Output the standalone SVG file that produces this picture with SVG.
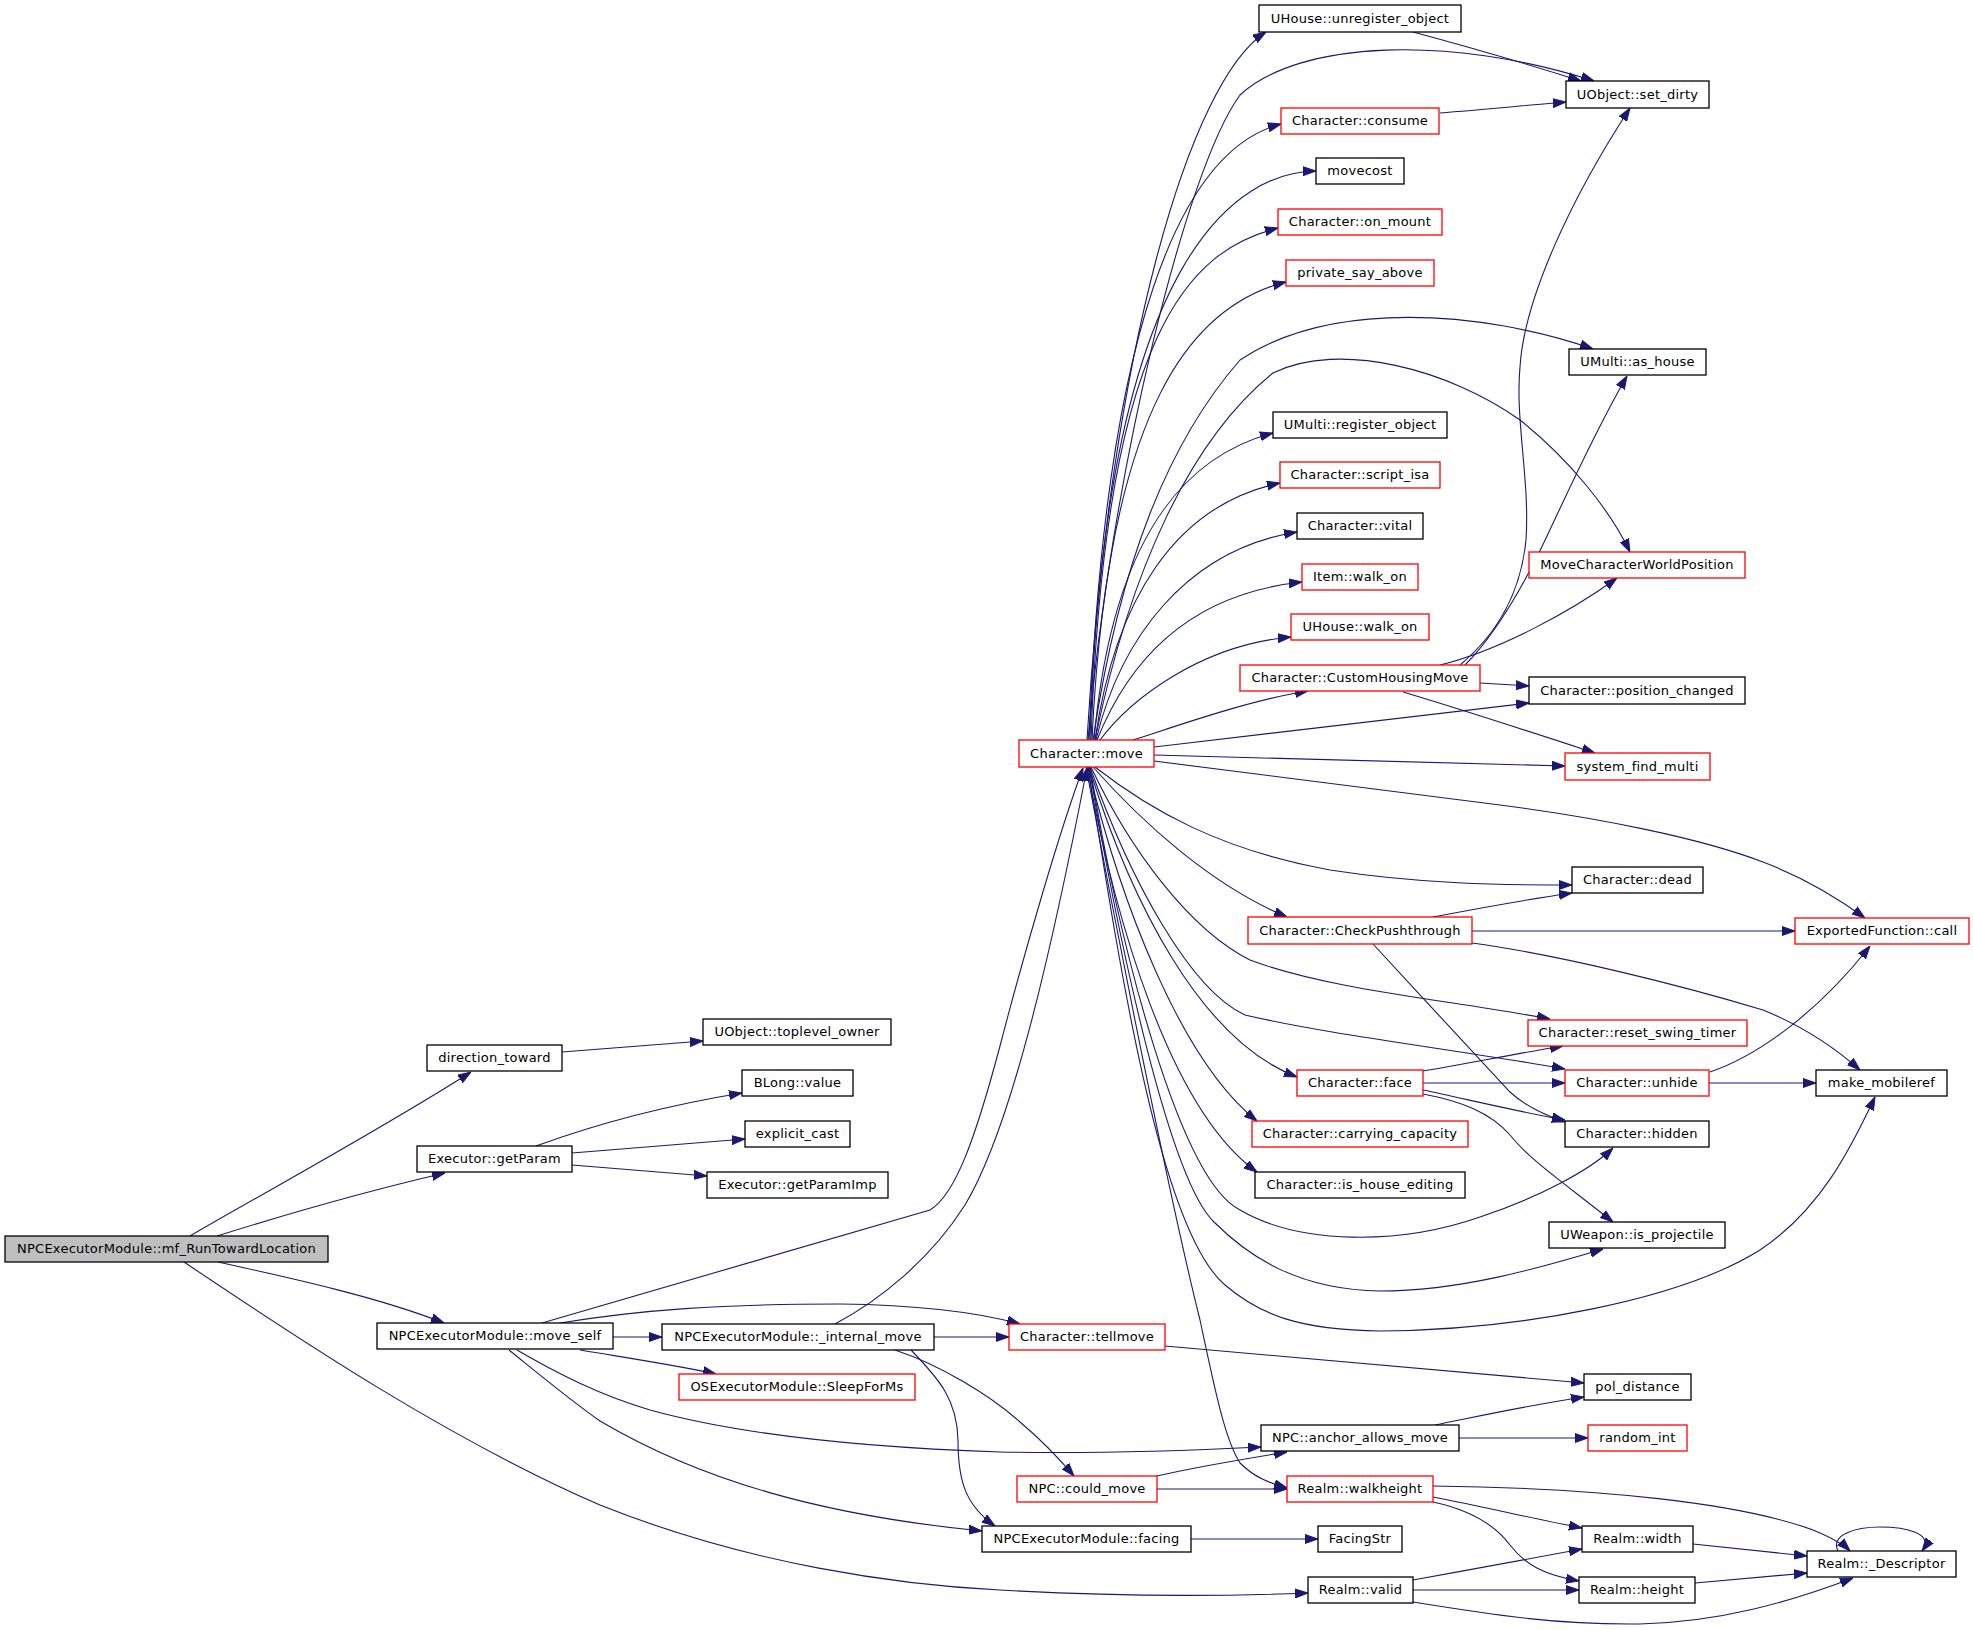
<svg xmlns="http://www.w3.org/2000/svg" width="1973" height="1630" viewBox="0 0 1973 1630">
<style>
.n rect{fill:#fff;stroke:#000;stroke-width:1.3}
.n.r rect{stroke:#f00}
.n.root rect{fill:#bfbfbf}
.n text{font-family:"DejaVu Sans","Liberation Sans",sans-serif;font-size:13px;letter-spacing:0.25px;fill:#000;text-anchor:middle}
#edges path{fill:none;stroke:#191970;stroke-width:1.1;marker-end:url(#ah)}
</style>
<defs>
<marker id="ah" markerUnits="userSpaceOnUse" markerWidth="13" markerHeight="10" viewBox="0 0 13 10" refX="13" refY="5" orient="auto">
<path d="M0,0.5 L13,5 L0,9.5 z" fill="#191970" stroke="#191970" stroke-width="1"/>
</marker>
</defs>
<rect width="1973" height="1630" fill="#fff"/>
<g id="edges">
<path d="M190,1236 C260,1195 380,1130 471,1072"/>
<path d="M217,1236 C300,1210 380,1188 445,1173"/>
<path d="M218,1262 C300,1280 380,1298 444,1323"/>
<path d="M184,1262 C300,1340 450,1440 600,1505 C750,1565 900,1585 1000,1590 C1120,1597 1230,1596 1308,1593"/>
<path d="M562,1052 L703,1041"/>
<path d="M536,1146 C580,1130 650,1108 742,1093"/>
<path d="M572,1153 L745,1139"/>
<path d="M572,1165 L707,1176"/>
<path d="M613,1337 L662,1337"/>
<path d="M542,1323 L930,1210 C955,1195 975,1140 1000,1046 C1025,950 1060,830 1083,768"/>
<path d="M560,1323 C640,1310 720,1304 840,1304 C920,1305 980,1313 1020,1324"/>
<path d="M580,1350 C640,1360 680,1366 716,1374"/>
<path d="M517,1350 C560,1375 600,1395 650,1410 C730,1432 850,1447 1000,1452 C1100,1454 1200,1450 1261,1447"/>
<path d="M509,1350 C540,1375 570,1400 600,1421 C700,1480 820,1515 982,1531"/>
<path d="M835,1324 C880,1300 930,1260 965,1205 C1010,1130 1050,960 1087,768"/>
<path d="M934,1337 L1009,1337"/>
<path d="M895,1350 C940,1365 990,1395 1020,1422 C1045,1443 1062,1462 1074,1476"/>
<path d="M911,1350 C940,1380 957,1400 958,1440 C958,1480 965,1505 995,1526"/>
<path d="M1087,740 C1110,350 1190,80 1266,32"/>
<path d="M1088,740 C1110,480 1185,170 1240,95 C1300,40 1450,35 1594,81"/>
<path d="M1089,740 C1105,330 1180,150 1281,124"/>
<path d="M1090,740 C1105,250 1240,172 1316,171"/>
<path d="M1091,740 C1105,330 1190,250 1278,228"/>
<path d="M1092,740 C1108,400 1195,305 1286,282"/>
<path d="M1093,740 C1120,560 1170,440 1240,360 C1330,300 1480,310 1593,349"/>
<path d="M1095,740 C1130,570 1190,440 1273,373 C1340,340 1450,370 1520,420 C1570,460 1610,510 1630,552"/>
<path d="M1094,740 C1110,560 1170,460 1273,433"/>
<path d="M1095,740 C1115,600 1175,505 1280,483"/>
<path d="M1096,740 C1120,640 1185,550 1297,532"/>
<path d="M1097,740 C1125,670 1180,595 1302,582"/>
<path d="M1100,740 C1130,700 1200,645 1291,637"/>
<path d="M1133,740 C1180,725 1250,700 1308,691"/>
<path d="M1154,747 C1300,730 1450,712 1529,703"/>
<path d="M1154,755 C1300,759 1450,764 1565,766"/>
<path d="M1154,761 L1500,805 C1600,818 1700,838 1763,862 C1800,876 1835,896 1865,918"/>
<path d="M1095,767 C1150,810 1220,850 1330,870 C1420,884 1500,885 1572,885"/>
<path d="M1093,767 C1140,820 1210,885 1287,917"/>
<path d="M1091,767 C1130,850 1190,930 1250,960 C1330,990 1450,1000 1550,1019"/>
<path d="M1090,767 C1130,880 1190,990 1245,1015 C1330,1035 1460,1050 1565,1069"/>
<path d="M1089,767 C1130,900 1200,1040 1297,1077"/>
<path d="M1088,767 C1120,900 1180,1060 1257,1121"/>
<path d="M1087,767 C1115,920 1170,1110 1257,1172"/>
<path d="M1090,767 C1120,950 1180,1180 1240,1210 C1300,1245 1400,1245 1480,1217 C1540,1197 1590,1170 1613,1148"/>
<path d="M1089,767 C1120,950 1170,1180 1214,1222 C1250,1258 1300,1290 1380,1291 C1460,1291 1540,1268 1603,1249"/>
<path d="M1088,767 C1120,970 1160,1230 1225,1285 C1260,1315 1300,1330 1380,1331 C1520,1330 1680,1300 1760,1250 C1820,1210 1850,1150 1875,1097"/>
<path d="M1086,767 C1120,950 1170,1200 1200,1320 C1215,1390 1225,1440 1240,1463 C1255,1478 1270,1483 1287,1488"/>
<path d="M1413,32 C1480,50 1540,68 1581,81"/>
<path d="M1440,113 C1480,110 1530,105 1566,102"/>
<path d="M1460,665 C1490,640 1520,600 1526,540 C1530,480 1515,420 1520,367 C1524,300 1570,200 1630,108"/>
<path d="M1465,665 C1490,640 1515,600 1537,557 C1560,510 1590,440 1627,376"/>
<path d="M1440,665 C1500,650 1570,612 1617,578"/>
<path d="M1480,683 L1529,686"/>
<path d="M1403,692 C1470,712 1540,735 1595,753"/>
<path d="M1433,917 C1480,908 1530,899 1572,893"/>
<path d="M1472,931 L1795,931"/>
<path d="M1472,943 C1560,955 1680,985 1763,1010 C1800,1025 1835,1048 1860,1070"/>
<path d="M1373,944 C1420,995 1480,1060 1510,1092 C1525,1106 1545,1115 1565,1122"/>
<path d="M1423,1071 C1470,1063 1520,1053 1563,1046"/>
<path d="M1423,1083 L1565,1083"/>
<path d="M1423,1090 C1470,1100 1520,1112 1565,1120"/>
<path d="M1423,1094 C1460,1101 1490,1112 1510,1135 C1530,1160 1560,1180 1613,1222"/>
<path d="M1710,1072 C1760,1055 1820,1010 1870,946"/>
<path d="M1709,1083 L1816,1083"/>
<path d="M1165,1346 L1584,1383"/>
<path d="M1435,1425 C1480,1416 1530,1405 1584,1397"/>
<path d="M1459,1438 L1588,1438"/>
<path d="M1157,1476 C1200,1466 1250,1458 1287,1452"/>
<path d="M1157,1489 L1287,1489"/>
<path d="M1433,1486 C1600,1488 1740,1503 1813,1530 C1830,1537 1843,1544 1850,1551"/>
<path d="M1433,1497 C1480,1506 1540,1520 1582,1528"/>
<path d="M1433,1502 C1470,1510 1495,1525 1510,1545 C1525,1565 1545,1575 1579,1581"/>
<path d="M1191,1539 L1318,1539"/>
<path d="M1413,1580 C1470,1570 1530,1558 1582,1549"/>
<path d="M1413,1590 L1579,1590"/>
<path d="M1413,1602 C1500,1616 1560,1625 1640,1624 C1720,1622 1790,1602 1853,1578"/>
<path d="M1693,1544 L1807,1556"/>
<path d="M1695,1583 L1807,1573"/>
<path d="M1838,1551 C1830,1535 1855,1527 1880,1527 C1905,1527 1935,1533 1922,1551"/>
</g>
<g id="n1" class="n root"><rect x="5" y="1236" width="323" height="26"/><text x="166.5" y="1253">NPCExecutorModule::mf_RunTowardLocation</text></g>
<g id="n2" class="n"><rect x="427" y="1045" width="135" height="26"/><text x="494.5" y="1062">direction_toward</text></g>
<g id="n3" class="n"><rect x="417" y="1146" width="155" height="26"/><text x="494.5" y="1163">Executor::getParam</text></g>
<g id="n4" class="n"><rect x="377" y="1323" width="236" height="26"/><text x="495" y="1340">NPCExecutorModule::move_self</text></g>
<g id="n5" class="n"><rect x="703" y="1019" width="188" height="26"/><text x="797" y="1036">UObject::toplevel_owner</text></g>
<g id="n6" class="n"><rect x="742" y="1070" width="111" height="26"/><text x="797.5" y="1087">BLong::value</text></g>
<g id="n7" class="n"><rect x="745" y="1121" width="105" height="26"/><text x="797.5" y="1138">explicit_cast</text></g>
<g id="n8" class="n"><rect x="707" y="1172" width="181" height="26"/><text x="797.5" y="1189">Executor::getParamImp</text></g>
<g id="n9" class="n"><rect x="662" y="1324" width="272" height="26"/><text x="798" y="1341">NPCExecutorModule::_internal_move</text></g>
<g id="n10" class="n r"><rect x="679" y="1374" width="236" height="26"/><text x="797" y="1391">OSExecutorModule::SleepForMs</text></g>
<g id="n11" class="n r"><rect x="1019" y="740" width="135" height="27"/><text x="1086.5" y="757.5">Character::move</text></g>
<g id="n12" class="n r"><rect x="1009" y="1324" width="156" height="26"/><text x="1087" y="1341">Character::tellmove</text></g>
<g id="n13" class="n r"><rect x="1017" y="1476" width="140" height="26"/><text x="1087" y="1493">NPC::could_move</text></g>
<g id="n14" class="n"><rect x="982" y="1526" width="209" height="26"/><text x="1086.5" y="1543">NPCExecutorModule::facing</text></g>
<g id="n15" class="n"><rect x="1259" y="5" width="202" height="27"/><text x="1360" y="22.5">UHouse::unregister_object</text></g>
<g id="n16" class="n r"><rect x="1281" y="108" width="158" height="26"/><text x="1360" y="125">Character::consume</text></g>
<g id="n17" class="n"><rect x="1316" y="158" width="88" height="26"/><text x="1360" y="175">movecost</text></g>
<g id="n18" class="n r"><rect x="1278" y="209" width="164" height="26"/><text x="1360" y="226">Character::on_mount</text></g>
<g id="n19" class="n r"><rect x="1286" y="260" width="148" height="26"/><text x="1360" y="277">private_say_above</text></g>
<g id="n20" class="n"><rect x="1273" y="412" width="174" height="26"/><text x="1360" y="429">UMulti::register_object</text></g>
<g id="n21" class="n r"><rect x="1280" y="462" width="160" height="26"/><text x="1360" y="479">Character::script_isa</text></g>
<g id="n22" class="n"><rect x="1297" y="513" width="126" height="26"/><text x="1360" y="530">Character::vital</text></g>
<g id="n23" class="n r"><rect x="1302" y="564" width="116" height="26"/><text x="1360" y="581">Item::walk_on</text></g>
<g id="n24" class="n r"><rect x="1291" y="614" width="138" height="26"/><text x="1360" y="631">UHouse::walk_on</text></g>
<g id="n25" class="n r"><rect x="1240" y="665" width="240" height="26"/><text x="1360" y="682">Character::CustomHousingMove</text></g>
<g id="n26" class="n r"><rect x="1248" y="917" width="224" height="27"/><text x="1360" y="934.5">Character::CheckPushthrough</text></g>
<g id="n27" class="n r"><rect x="1297" y="1070" width="126" height="26"/><text x="1360" y="1087">Character::face</text></g>
<g id="n28" class="n r"><rect x="1252" y="1121" width="216" height="26"/><text x="1360" y="1138">Character::carrying_capacity</text></g>
<g id="n29" class="n"><rect x="1255" y="1172" width="210" height="26"/><text x="1360" y="1189">Character::is_house_editing</text></g>
<g id="n30" class="n"><rect x="1261" y="1425" width="198" height="26"/><text x="1360" y="1442">NPC::anchor_allows_move</text></g>
<g id="n31" class="n r"><rect x="1287" y="1476" width="146" height="26"/><text x="1360" y="1493">Realm::walkheight</text></g>
<g id="n32" class="n"><rect x="1318" y="1526" width="84" height="26"/><text x="1360" y="1543">FacingStr</text></g>
<g id="n33" class="n"><rect x="1308" y="1577" width="105" height="26"/><text x="1360.5" y="1594">Realm::valid</text></g>
<g id="n34" class="n"><rect x="1566" y="81" width="143" height="27"/><text x="1637.5" y="98.5">UObject::set_dirty</text></g>
<g id="n35" class="n"><rect x="1569" y="349" width="137" height="26"/><text x="1637.5" y="366">UMulti::as_house</text></g>
<g id="n36" class="n r"><rect x="1529" y="552" width="216" height="26"/><text x="1637" y="569">MoveCharacterWorldPosition</text></g>
<g id="n37" class="n"><rect x="1529" y="677" width="216" height="27"/><text x="1637" y="694.5">Character::position_changed</text></g>
<g id="n38" class="n r"><rect x="1565" y="753" width="145" height="27"/><text x="1637.5" y="770.5">system_find_multi</text></g>
<g id="n39" class="n"><rect x="1572" y="867" width="131" height="26"/><text x="1637.5" y="884">Character::dead</text></g>
<g id="n40" class="n r"><rect x="1795" y="918" width="174" height="26"/><text x="1882" y="935">ExportedFunction::call</text></g>
<g id="n41" class="n r"><rect x="1528" y="1020" width="219" height="26"/><text x="1637.5" y="1037">Character::reset_swing_timer</text></g>
<g id="n42" class="n r"><rect x="1565" y="1070" width="144" height="26"/><text x="1637" y="1087">Character::unhide</text></g>
<g id="n43" class="n"><rect x="1816" y="1070" width="131" height="26"/><text x="1881.5" y="1087">make_mobileref</text></g>
<g id="n44" class="n"><rect x="1565" y="1121" width="144" height="26"/><text x="1637" y="1138">Character::hidden</text></g>
<g id="n45" class="n"><rect x="1549" y="1222" width="176" height="26"/><text x="1637" y="1239">UWeapon::is_projectile</text></g>
<g id="n46" class="n"><rect x="1584" y="1374" width="107" height="26"/><text x="1637.5" y="1391">pol_distance</text></g>
<g id="n47" class="n r"><rect x="1588" y="1425" width="99" height="26"/><text x="1637.5" y="1442">random_int</text></g>
<g id="n48" class="n"><rect x="1582" y="1526" width="111" height="26"/><text x="1637.5" y="1543">Realm::width</text></g>
<g id="n49" class="n"><rect x="1579" y="1577" width="116" height="26"/><text x="1637" y="1594">Realm::height</text></g>
<g id="n50" class="n"><rect x="1807" y="1551" width="149" height="26"/><text x="1881.5" y="1568">Realm::_Descriptor</text></g>
</svg>
